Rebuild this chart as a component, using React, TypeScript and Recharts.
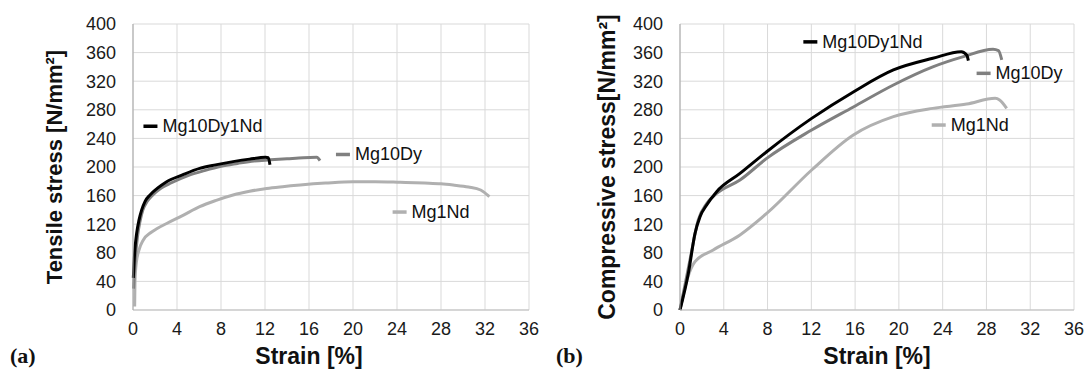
import React from "react";
import { LineChart, Line, XAxis, YAxis, CartesianGrid, ReferenceDot } from "recharts";

// ---------- Tensile (a) ----------
const tStrainDy1Nd = [0.03, 0.15, 0.33, 0.55, 0.79, 1.1, 1.55, 2.2, 3.06, 4.5, 6.06, 7.5, 9.1, 10.6, 12.06, 12.3, 12.45];
const tStressDy1Nd = [45, 80, 107, 126, 140, 152, 161, 170, 179.5, 189, 198, 203, 207.5, 211, 213.5, 213, 203];

const tStrainDy = [0.05, 0.2, 0.4, 0.65, 0.9, 1.3, 1.8, 2.5, 3.5, 5, 6.5, 8, 9.5, 11, 12.5, 14, 15.5, 16.7, 17];
const tStressDy = [30, 70, 102, 125, 140, 152, 161, 170, 178, 188, 195, 201, 205, 208.5, 210, 211.5, 213, 213.5, 209];

const tStrainNd = [0.15, 0.18, 0.3, 0.55, 0.94, 1.6, 2.2, 3.06, 4.5, 6.06, 7.5, 9.1, 10.6, 12.15, 13.6, 15.2, 17.5, 20, 22, 24.3, 26.5, 28, 29.1, 30.5, 31.6, 32.4];
const tStressNd = [5, 40, 66, 84, 98, 108, 114, 121, 132, 144.5, 153, 160.8, 166, 170, 172.5, 174.8, 177.5, 179.5, 179.5, 178.6, 177.5, 176.5, 174.8, 172, 167.8, 158.5];

// ---------- Compressive (b) ----------
const cStrainDy1Nd = [0, 0.76, 1.37, 1.83, 2.44, 3.35, 5.48, 7.92, 12.03, 15.84, 19.5, 23.1, 25.7, 26.2, 26.35];
const cStressDy1Nd = [0, 51, 107, 130.5, 146.9, 165.5, 191, 221.4, 268, 305, 335.7, 352, 361.3, 356.6, 348.7];

const cStrainDy = [0, 0.91, 1.67, 2.44, 3.35, 5.48, 7.92, 12.03, 15.84, 19.5, 23.1, 25.9, 28.6, 29.1, 29.4];
const cStressDy = [0, 70, 126, 149, 163, 181.8, 212, 251.7, 284, 314.7, 340, 354.3, 364.6, 362.7, 349.7];

const cStrainNd = [0, 0.7, 1.37, 3.04, 5.48, 7.92, 12.03, 15.84, 19.5, 23.1, 26.2, 28.8, 29.2, 29.85];
const cStressNd = [0, 45, 67.6, 84, 105, 135, 195.8, 244.8, 270.4, 282, 288, 296, 293.7, 282];

// ---------- axes ----------
const xTicks = [0, 4, 8, 12, 16, 20, 24, 28, 32, 36];
const yTicks = [0, 40, 80, 120, 160, 200, 240, 280, 320, 360, 400];

// ---------- series names / labels ----------
const seriesNames = ["Mg10Dy1Nd", "Mg10Dy", "Mg1Nd"];
const seriesColors = ["#000000", "#808080", "#b0b0b0"];
const tLabelX = [0.95, 18.45, 23.6];
const tLabelY = [257, 217.5, 137];
const cLabelX = [11.27, 27.1, 23.0];
const cLabelY = [375, 331, 258.7];

const zip = (xs: number[], ys: number[]) => xs.map((x, i) => ({ x, y: ys[i] }));

const FONT = "'Liberation Sans', Arial, sans-serif";

const makeLabelShape = (name: string, color: string) => (props: any) => {
  const { cx, cy } = props;
  return (
    <g>
      <line x1={cx} y1={cy} x2={cx + 14} y2={cy} stroke={color} strokeWidth={3.5} />
      <text x={cx + 19} y={cy} dominantBaseline="central" fontSize={18} fontFamily={FONT} fill="#111">
        {name}
      </text>
    </g>
  );
};

const yTitle = (text: string, dx: number, size: number) => (props: any) => {
  const vb = props.viewBox || {};
  const x = (vb.x || 0) + dx;
  const y = (vb.y || 0) + (vb.height || 0) / 2;
  return (
    <text x={x} y={y} transform={`rotate(-90, ${x}, ${y})`} textAnchor="middle" dominantBaseline="central"
      fontSize={size} fontWeight="bold" fontFamily={FONT} fill="#111">
      {text}
    </text>
  );
};

const xTitle = (text: string, dxFromCenter: number, yAbs: number, size: number) => (props: any) => {
  const vb = props.viewBox || {};
  const x = (vb.x || 0) + (vb.width || 0) / 2 + dxFromCenter;
  return (
    <text x={x} y={yAbs} textAnchor="middle" dominantBaseline="central"
      fontSize={size} fontWeight="bold" fontFamily={FONT} fill="#111">
      {text}
    </text>
  );
};

type Panel = {
  series: { x: number; y: number }[][];
  labelX: number[];
  labelY: number[];
  yLabel: string;
  yLabelDx: number;
  yLabelSize: number;
  xLabelDx: number;
  yAxisWidth: number;
  marginRight: number;
};

const tickStyle = { fontSize: 18, fontFamily: FONT, fill: "#1a1a1a" };

const ChartPanel = ({ p }: { p: Panel }) => (
  <LineChart width={544} height={369} margin={{ top: 24, right: p.marginRight, bottom: 29, left: 0 }}>
    <CartesianGrid stroke="#d9d9d9" strokeWidth={1} />
    <XAxis
      type="number"
      dataKey="x"
      domain={[0, 36]}
      ticks={xTicks}
      interval={0}
      tickLine={false}
      axisLine={{ stroke: "#bfbfbf" }}
      tick={tickStyle}
      tickSize={6}
      tickMargin={6}
      height={30}
      label={{ content: xTitle("Strain [%]", p.xLabelDx, 356, 23) }}
    />
    <YAxis
      type="number"
      domain={[0, 400]}
      ticks={yTicks}
      interval={0}
      tickLine={false}
      axisLine={{ stroke: "#a6a6a6" }}
      tick={tickStyle}
      tickSize={6}
      tickMargin={11}
      width={p.yAxisWidth}
      label={{ content: yTitle(p.yLabel, p.yLabelDx, p.yLabelSize) }}
    />
    {p.series.map((d, i) => (
      <Line
        key={seriesNames[i]}
        data={d}
        dataKey="y"
        type="monotone"
        stroke={seriesColors[i]}
        strokeWidth={3}
        dot={false}
        activeDot={false}
        isAnimationActive={false}
      />
    )).reverse()}
    {seriesNames.map((n, i) => (
      <ReferenceDot key={"lbl" + n} x={p.labelX[i]} y={p.labelY[i]} r={0}
        ifOverflow="visible" shape={makeLabelShape(n, seriesColors[i])} />
    ))}
  </LineChart>
);

const tensile: Panel = {
  series: [zip(tStrainDy1Nd, tStressDy1Nd), zip(tStrainDy, tStressDy), zip(tStrainNd, tStressNd)],
  labelX: tLabelX,
  labelY: tLabelY,
  yLabel: "Tensile stress [N/mm²]",
  yLabelDx: 54,
  yLabelSize: 22,
  xLabelDx: -22,
  yAxisWidth: 133,
  marginRight: 15,
};

const compressive: Panel = {
  series: [zip(cStrainDy1Nd, cStressDy1Nd), zip(cStrainDy, cStressDy), zip(cStrainNd, cStressNd)],
  labelX: cLabelX,
  labelY: cLabelY,
  yLabel: "Compressive stress[N/mm²]",
  yLabelDx: 63,
  yLabelSize: 23,
  xLabelDx: 0,
  yAxisWidth: 136,
  marginRight: 14,
};

const panelTag: React.CSSProperties = {
  position: "absolute",
  fontFamily: "'Liberation Serif', 'Times New Roman', serif",
  fontWeight: "bold",
  fontSize: 22,
  color: "#111",
  lineHeight: "22px",
};

export default function App() {
  return (
    <div style={{ position: "absolute", left: 0, top: 0, width: 1088, height: 369, background: "#fff", overflow: "hidden" }}>
      <div style={{ position: "absolute", left: 0, top: 0 }}>
        <ChartPanel p={tensile} />
      </div>
      <div style={{ position: "absolute", left: 544, top: 0 }}>
        <ChartPanel p={compressive} />
      </div>
      <div style={{ ...panelTag, left: 10, top: 345 }}>(a)</div>
      <div style={{ ...panelTag, left: 556, top: 345 }}>(b)</div>
    </div>
  );
}
